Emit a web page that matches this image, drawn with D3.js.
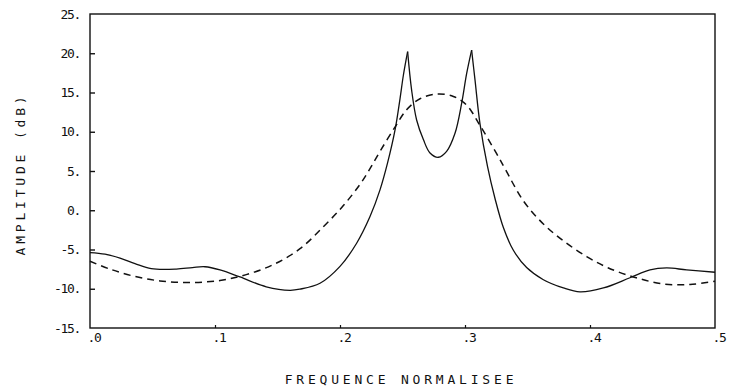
<!DOCTYPE html>
<html>
<head>
<meta charset="utf-8">
<script src="https://cdn.jsdelivr.net/npm/d3@7"></script>
<style>
  body { margin: 0; background: #fff; }
  svg text { font-family: "DejaVu Sans Mono", monospace; fill: #111; }
</style>
</head>
<body>
<script>
// solid curve (two sharp peaks)
const solidFreq = [0, 0.012, 0.024, 0.036, 0.049, 0.069, 0.082, 0.092, 0.104, 0.12, 0.141, 0.16, 0.168, 0.184, 0.2, 0.2133, 0.224, 0.232, 0.238, 0.244, 0.248, 0.2507, 0.2541, 0.2573, 0.2613, 0.2667, 0.272, 0.2787, 0.2853, 0.292, 0.2973, 0.3013, 0.3053, 0.308, 0.312, 0.318, 0.324, 0.3307, 0.3387, 0.3493, 0.3627, 0.3787, 0.392, 0.4107, 0.432, 0.448, 0.4613, 0.4773, 0.5];
const solidDb = [-5.4, -5.6, -6.1, -6.8, -7.45, -7.5, -7.3, -7.2, -7.6, -8.5, -9.75, -10.2, -10.05, -9.3, -7.15, -4.2, -0.8, 2.6, 6.0, 10.2, 14.2, 17.2, 20.2, 15.3, 11.5, 9.0, 7.3, 6.75, 7.5, 9.8, 13.6, 17.4, 20.4, 16.6, 11.0, 5.6, 1.5, -2.2, -5.1, -7.3, -8.85, -9.9, -10.4, -9.9, -8.6, -7.6, -7.35, -7.6, -7.9];

// dashed curve (smooth bump)
const dashFreq = [0, 0.016, 0.035, 0.056, 0.08, 0.104, 0.125, 0.147, 0.168, 0.1867, 0.2027, 0.216, 0.224, 0.232, 0.244, 0.2533, 0.264, 0.2773, 0.2907, 0.3013, 0.312, 0.3253, 0.332, 0.3467, 0.3627, 0.3787, 0.3973, 0.4147, 0.437, 0.459, 0.48, 0.5];
const dashDb = [-6.5, -7.5, -8.4, -9.0, -9.2, -8.95, -8.2, -6.9, -4.9, -2.1, 0.6, 3.3, 5.3, 7.5, 10.6, 12.8, 14.2, 14.8, 14.5, 13.4, 10.8, 7.2, 5.3, 1.2, -1.75, -3.9, -5.9, -7.35, -8.6, -9.4, -9.45, -9.05];

const yTicks = [-15, -10, -5, 0, 5, 10, 15, 20, 25];
const yTickLabels = ["-15.", "-10.", "-5.", "0.", "5.", "10.", "15.", "20.", "25."];
const xTicks = [0, 0.1, 0.2, 0.3, 0.4, 0.5];
const xTickLabels = [".0", ".1", ".2", ".3", ".4", ".5"];

const width = 736, height = 389;
const margin = {top: 14, right: 21, bottom: 61, left: 90};

const svg = d3.select('body').append('svg')
  .attr('width', width)
  .attr('height', height);

const x = d3.scaleLinear().domain([0, 0.5]).range([margin.left, width - margin.right]);
const y = d3.scaleLinear().domain([-15, 25]).range([height - margin.bottom, margin.top]);

// frame
svg.append('rect')
  .attr('x', x(0)).attr('y', y(25))
  .attr('width', x(0.5) - x(0)).attr('height', y(-15) - y(25))
  .attr('fill', 'none').attr('stroke', '#111').attr('stroke-width', 1.4);

// left ticks (inside)
const yAxis = d3.axisLeft(y).tickValues(yTicks).tickSize(-5).tickFormat((d, i) => yTickLabels[i]);
const gy = svg.append('g').attr('transform', `translate(${x(0)},0)`).call(yAxis);
gy.select('.domain').remove();
gy.selectAll('.tick line').attr('stroke', '#111').attr('stroke-width', 1.4)
  .attr('display', d => (d === 25 || d === -15) ? 'none' : null);
gy.selectAll('.tick text').attr('x', -10).attr('font-size', 13).attr('letter-spacing', -1.3)
  .style('font-family', '"DejaVu Sans Mono", monospace');

// bottom ticks (inside, short)
const xAxis = d3.axisBottom(x).tickValues(xTicks).tickSize(-3).tickFormat((d, i) => xTickLabels[i]);
const gx = svg.append('g').attr('transform', `translate(0,${y(-15)})`).call(xAxis);
gx.select('.domain').remove();
gx.selectAll('.tick line').attr('stroke', '#111').attr('stroke-width', 1.2)
  .attr('display', d => (d === 0 || d === 0.5) ? 'none' : null);
gx.selectAll('.tick text').attr('text-anchor', 'start').attr('x', -3).attr('y', 5)
  .attr('font-size', 13).attr('letter-spacing', -1.3)
  .style('font-family', '"DejaVu Sans Mono", monospace');

const line = d3.line().curve(d3.curveCatmullRom.alpha(0.5));

svg.append('path')
  .attr('d', line(dashFreq.map((f, i) => [x(f), y(dashDb[i])])))
  .attr('fill', 'none').attr('stroke', '#111').attr('stroke-width', 1.5)
  .attr('stroke-dasharray', '7,5');

// split the solid curve at its two peaks so the tips stay sharp
const pts = solidFreq.map((f, i) => [x(f), y(solidDb[i])]);
const cuts = [0];
solidDb.forEach((v, i) => {
  if (i > 0 && i < solidDb.length - 1 && v > 18 && v > solidDb[i - 1] && v > solidDb[i + 1]) cuts.push(i);
});
cuts.push(pts.length - 1);
for (let k = 0; k < cuts.length - 1; k++) {
  svg.append('path')
    .attr('d', line(pts.slice(cuts[k], cuts[k + 1] + 1)))
    .attr('fill', 'none').attr('stroke', '#111').attr('stroke-width', 1.3)
    .attr('stroke-linejoin', 'miter');
}

// axis titles
svg.append('text')
  .attr('x', 401).attr('y', 384)
  .attr('text-anchor', 'middle')
  .attr('font-size', 13).attr('font-weight', 200).attr('letter-spacing', 3.8)
  .text('FREQUENCE NORMALISEE');

svg.append('text')
  .attr('transform', 'translate(25,174) rotate(-90)')
  .attr('text-anchor', 'middle')
  .attr('font-size', 13).attr('font-weight', 200).attr('letter-spacing', 3.8)
  .text('AMPLITUDE (dB)');
</script>
</body>
</html>
